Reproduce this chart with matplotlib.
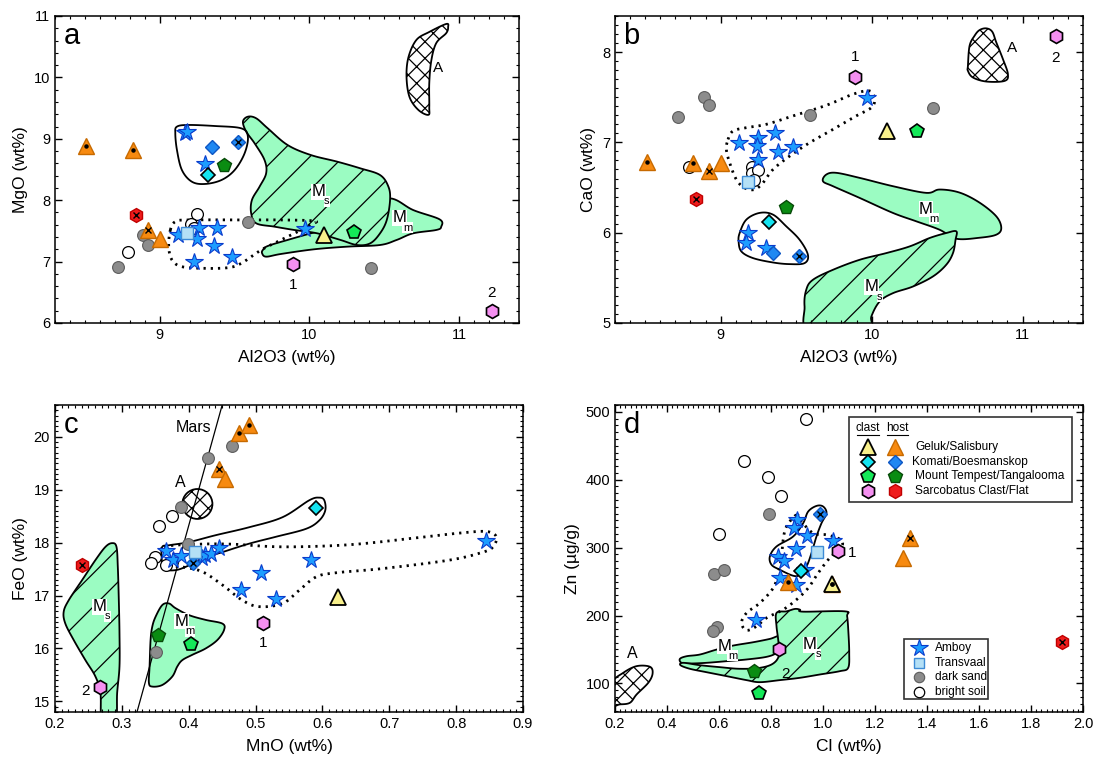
import numpy as np
import matplotlib
matplotlib.use("Agg")
import matplotlib.pyplot as plt
from matplotlib.patches import Polygon, Ellipse, Rectangle
from matplotlib.ticker import MultipleLocator

plt.rcParams["font.family"] = ["Liberation Sans", "DejaVu Sans"]
plt.rcParams["hatch.linewidth"] = 0.9

# ---------------------------------------------------------------- data
# single samples, order: geluk clast, komati clast, tempest clast, tempest host,
# sarcobatus clast 1, sarcobatus clast 2, sarcobatus flat, transvaal
SINGLE_NAMES = ["geluk_clast", "komati_clast", "tempest_clast", "tempest_host",
                "sarco_clast", "sarco_clast", "sarco_flat", "transvaal"]
single_al2o3 = [10.10, 9.32, 10.30, 9.43, 9.89, 11.22, 8.84, 9.18]
single_mgo = [7.43, 8.41, 7.48, 8.57, 6.96, 6.20, 7.76, 7.46]
single_cao = [7.13, 6.12, 7.13, 6.29, 7.72, 8.18, 6.37, 6.56]
single_mno = [0.624, 0.590, 0.404, 0.354, 0.511, 0.267, 0.241, 0.410]
single_feo = [16.98, 18.66, 16.08, 16.25, 16.49, 15.28, 17.57, 17.82]
single_cl = [1.035, 0.915, 0.755, 0.734, 1.058, 0.830, 1.919, 0.978]
single_zn = [246.4, 265.0, 86.3, 118.1, 294.4, 150.9, 160.7, 293.9]
single_flag = ["", "", "", "", "", "", "x", ""]

# Geluk/Salisbury host triangles
geluk_host_al2o3 = [8.51, 8.82, 8.92, 9.00]
geluk_host_mgo = [8.89, 8.81, 7.52, 7.37]
geluk_host_cao = [6.78, 6.77, 6.68, 6.77]
geluk_host_mno = [0.476, 0.490, 0.446, 0.454]
geluk_host_feo = [20.08, 20.23, 19.39, 19.20]
geluk_host_cl = [0.864, 1.035, 1.334, 1.308]
geluk_host_zn = [248.8, 246.4, 314.0, 284.6]
geluk_host_flag = ["dot", "dot", "x", ""]

# Komati/Boesmanskop host diamonds
komati_host_al2o3 = [9.35, 9.52]
komati_host_mgo = [8.86, 8.94]
komati_host_cao = [5.78, 5.74]
komati_host_mno = [np.nan, 0.407]
komati_host_feo = [np.nan, 17.62]
komati_host_cl = [np.nan, 0.988]
komati_host_zn = [np.nan, 349.2]
komati_host_flag = ["", "x"]

# Amboy stars
amboy_a_al2o3 = [9.17, 9.18, 9.30, 9.12, 9.26, 9.25, 9.38, 9.36, 9.48, 9.23, 9.97]
amboy_a_mgo = [9.09, 9.11, 8.59, 7.43, 7.54, 7.36, 7.55, 7.25, 7.07, 7.00, 7.53]
amboy_b_al2o3 = [9.12, 9.25, 9.24, 9.25, 9.36, 9.38, 9.48, 9.97, 9.18, 9.17, 9.30]
amboy_b_cao = [6.99, 7.05, 6.96, 6.80, 7.10, 6.89, 6.95, 7.49, 6.00, 5.89, 5.83]
amboy_c_mno = [0.366, 0.376, 0.389, 0.420, 0.425, 0.434, 0.446, 0.583, 0.508, 0.478, 0.530, 0.844]
amboy_c_feo = [17.85, 17.68, 17.75, 17.70, 17.76, 17.79, 17.89, 17.67, 17.42, 17.10, 16.94, 18.03]
amboy_d_cl = [0.901, 0.888, 0.939, 0.898, 1.039, 0.828, 0.851, 0.930, 0.834, 0.898, 0.742]
amboy_d_zn = [340.9, 328.6, 317.4, 297.8, 309.1, 285.6, 279.7, 267.4, 255.2, 244.4, 194.0]

# dark sand
dark_a_al2o3 = [8.89, 8.92, 8.72, 9.59, 10.41]
dark_a_mgo = [7.44, 7.27, 6.91, 7.64, 6.89]
dark_b_al2o3 = [8.72, 8.89, 8.92, 9.59, 10.41]
dark_b_cao = [7.28, 7.50, 7.41, 7.30, 7.38]
dark_c_mno = [0.465, 0.429, 0.389, 0.399, 0.351]
dark_c_feo = [19.83, 19.60, 18.68, 17.98, 15.94]
dark_d_cl = [0.792, 0.581, 0.619, 0.591, 0.578]
dark_d_zn = [349.7, 261.6, 266.5, 183.2, 177.8]

# bright soil
bright_a_al2o3 = [8.79, 9.25, 9.21, 9.21, 9.23]
bright_a_mgo = [7.15, 7.77, 7.61, 7.48, 7.55]
bright_b_al2o3 = [8.79, 9.21, 9.21, 9.25, 9.22]
bright_b_cao = [6.73, 6.73, 6.66, 6.69, 6.58]
bright_c_mno = [0.375, 0.355, 0.349, 0.343, 0.366]
bright_c_feo = [18.51, 18.32, 17.73, 17.62, 17.57]
bright_d_cl = [0.933, 0.696, 0.789, 0.837, 0.601]
bright_d_zn = [488.7, 428.0, 403.5, 375.6, 319.8]

# outlined fields, panel a (Al2O3, MgO)
field_A_a_x = [10.914, 10.801, 10.715, 10.662, 10.649, 10.669, 10.728, 10.795,
               10.801, 10.801, 10.815, 10.848, 10.914, 10.927]
field_A_a_y = [10.87, 10.74, 10.61, 10.33, 10.01, 9.68, 9.47, 9.39,
               9.52, 9.91, 10.28, 10.56, 10.72, 10.82]
field_Ms_a_x = [9.556, 9.589, 9.645, 9.722, 9.854, 10.009, 10.185, 10.340, 10.472, 10.528,
                10.539, 10.517, 10.472, 10.406, 10.318, 10.208, 10.053, 9.898, 9.766, 9.645,
                9.611, 9.616, 9.667, 9.711, 9.700, 9.634, 9.578]
field_Ms_a_y = [9.279, 9.360, 9.333, 9.170, 8.899, 8.736, 8.628, 8.519, 8.410, 8.220,
                8.003, 7.677, 7.460, 7.297, 7.270, 7.352, 7.460, 7.515, 7.569, 7.623,
                7.786, 8.003, 8.220, 8.438, 8.655, 8.926, 9.116]
field_Mm_a_x = [9.689, 9.722, 9.854, 10.009, 10.097, 10.208, 10.362, 10.539, 10.693, 10.870,
                10.881, 10.848, 10.693, 10.583, 10.472, 10.252, 10.031, 9.810, 9.711, 9.684]
field_Mm_a_y = [7.189, 7.254, 7.352, 7.460, 7.515, 7.677, 7.895, 8.030, 7.840, 7.688,
                7.569, 7.515, 7.460, 7.352, 7.270, 7.243, 7.200, 7.124, 7.080, 7.135]
clast_a_x = [9.115, 9.192, 9.369, 9.545, 9.589, 9.567, 9.501, 9.413, 9.302, 9.214, 9.148, 9.115, 9.104]
clast_a_y = [9.198, 9.225, 9.208, 9.170, 9.035, 8.763, 8.492, 8.329, 8.264, 8.302, 8.492, 8.818, 9.089]
amboy_field_a_x = [9.071, 9.104, 9.192, 9.589, 9.810, 10.031, 10.009, 9.810, 9.678, 9.545,
                   9.457, 9.302, 9.148, 9.082, 9.060]
amboy_field_a_y = [7.515, 7.650, 7.678, 7.678, 7.678, 7.661, 7.596, 7.352, 7.189, 6.972,
                   6.901, 6.890, 6.917, 7.026, 7.243]

# panel b (Al2O3, CaO)
field_A_b_x = [10.638, 10.649, 10.682, 10.715, 10.760, 10.799, 10.826, 10.870, 10.903,
               10.881, 10.760, 10.671, 10.638]
field_A_b_y = [7.848, 8.070, 8.181, 8.244, 8.263, 8.226, 8.107, 7.922, 7.756,
               7.681, 7.674, 7.719, 7.793]
field_Mm_b_x = [9.678, 9.700, 9.766, 9.921, 10.141, 10.362, 10.450, 10.583, 10.715, 10.826,
                10.859, 10.826, 10.715, 10.561, 10.450, 10.296, 10.141, 9.921, 9.744]
field_Mm_b_y = [6.570, 6.644, 6.663, 6.607, 6.515, 6.441, 6.478, 6.444, 6.333, 6.181,
                6.052, 5.978, 5.944, 5.933, 6.033, 6.126, 6.219, 6.385, 6.515]
field_Ms_b_x = [10.561, 10.556, 10.539, 10.494, 10.406, 10.274, 10.141, 10.053, 9.998, 9.976,
                9.589, 9.556, 9.567, 9.611, 9.744, 9.921, 10.097, 10.252, 10.384, 10.494]
field_Ms_b_y = [6.015, 5.922, 5.774, 5.644, 5.515, 5.404, 5.330, 5.237, 5.070, 4.900,
                4.900, 5.181, 5.367, 5.478, 5.589, 5.700, 5.774, 5.848, 5.941, 5.996]
clast_b_x = [9.126, 9.170, 9.258, 9.347, 9.435, 9.523, 9.578, 9.556, 9.457, 9.347, 9.214, 9.137, 9.119]
clast_b_y = [5.996, 6.144, 6.219, 6.200, 6.070, 5.922, 5.756, 5.663, 5.652, 5.670, 5.719, 5.793, 5.904]
amboy_field_b_x = [9.049, 9.082, 9.170, 9.302, 9.479, 9.700, 9.876, 9.987, 10.020, 9.998, 9.898,
                   9.744, 9.589, 9.457, 9.347, 9.280, 9.225, 9.159, 9.104, 9.060, 9.038]
amboy_field_b_y = [7.033, 7.126, 7.163, 7.200, 7.293, 7.411, 7.533, 7.570, 7.478, 7.385, 7.293,
                   7.144, 6.996, 6.848, 6.700, 6.552, 6.478, 6.496, 6.589, 6.774, 6.922]

# panel c (MnO, FeO)
mars_line_mno = [0.315, 0.460]
mars_line_feo = [14.45, 21.05]
field_A_c_center = (0.413, 18.73)
field_A_c_size = (0.045, 0.565)
field_Ms_c_x = [0.213, 0.2205, 0.2405, 0.2605, 0.2755, 0.2855, 0.292, 0.294, 0.2955, 0.2965,
                0.2965, 0.293, 0.2905, 0.2705, 0.268, 0.2605, 0.2455, 0.228, 0.2155]
field_Ms_c_y = [16.69, 16.91, 17.29, 17.67, 17.92, 17.99, 17.92, 17.54, 16.91, 16.29,
                15.66, 15.16, 14.60, 14.60, 15.16, 15.47, 15.78, 16.16, 16.47]
field_Mm_c_x = [0.3505, 0.3605, 0.3705, 0.3805, 0.4005, 0.4254, 0.4504, 0.4529, 0.4429, 0.4254,
                0.4054, 0.3905, 0.383, 0.3755, 0.3605, 0.3455, 0.3405, 0.3415, 0.343, 0.3455]
field_Mm_c_y = [16.60, 16.82, 16.85, 16.76, 16.63, 16.54, 16.47, 16.35, 16.16, 16.00,
                15.88, 15.78, 15.66, 15.47, 15.31, 15.28, 15.35, 15.66, 16.16, 16.41]
clast_c_x = [0.3605, 0.3705, 0.4005, 0.4404, 0.4904, 0.5404, 0.5804, 0.5954, 0.6028, 0.6043,
             0.5954, 0.5754, 0.5304, 0.4904, 0.4504, 0.4204, 0.4005, 0.3805, 0.363, 0.3595]
clast_c_y = [17.92, 17.95, 18.01, 18.14, 18.29, 18.48, 18.80, 18.85, 18.80, 18.61,
             18.42, 18.26, 18.11, 17.98, 17.82, 17.70, 17.57, 17.48, 17.51, 17.73]
amboy_field_c_x = [0.363, 0.4154, 0.4654, 0.5404, 0.6403, 0.7403, 0.8052, 0.8452, 0.8602, 0.8552,
                   0.8402, 0.7903, 0.6903, 0.6203, 0.5903, 0.5654, 0.5404, 0.5054, 0.4804, 0.4504,
                   0.4204, 0.3905, 0.3655, 0.3605]
amboy_field_c_y = [17.92, 17.97, 17.97, 17.92, 17.96, 18.09, 18.18, 18.21, 18.11, 17.92,
                   17.82, 17.67, 17.51, 17.43, 17.35, 17.10, 16.85, 16.79, 16.91, 17.20,
                   17.45, 17.54, 17.57, 17.73]

# panel d (Cl, Zn)
field_A_d_x = [0.19, 0.232, 0.2833, 0.3345, 0.3448, 0.3281, 0.2833, 0.2577, 0.2192, 0.19]
field_A_d_y = [101.0, 115.7, 125.5, 124.6, 114.7, 101.0, 83.8, 71.6, 69.2, 69.2]
field_Ms_d_x = [0.8214, 0.8598, 0.8919, 0.9111, 0.9239, 1.084, 1.093, 1.098, 1.101, 1.097,
                1.065, 0.988, 0.911, 0.834, 0.757, 0.706, 0.629, 0.552, 0.488, 0.452,
                0.4627, 0.5267, 0.6036, 0.6805, 0.7573, 0.8086, 0.8316, 0.8278, 0.8214]
field_Ms_d_y = [203.8, 206.2, 209.7, 208.7, 205.7, 206.2, 198.9, 174.4, 145.0, 123.0,
                118.1, 113.2, 108.3, 104.9, 101.9, 104.9, 110.8, 116.6, 121.6, 126.9,
                130.4, 126.9, 124.0, 121.6, 123.0, 129.4, 142.6, 164.6, 184.2]
field_Mm_d_x = [0.4498, 0.4755, 0.5267, 0.5908, 0.6548, 0.7317, 0.7958, 0.8342, 0.8406, 0.8214,
                0.7830, 0.7061, 0.6292, 0.5523, 0.4883, 0.4562]
field_Mm_d_y = [136.2, 140.1, 142.6, 149.9, 155.8, 160.7, 165.6, 169.5, 154.8, 145.0,
                139.2, 135.3, 132.8, 130.4, 129.4, 130.4]
clast_d_x = [0.7958, 0.8214, 0.8855, 0.9239, 0.9431, 0.9751, 1.0008, 1.0136, 0.9944, 0.9751,
             0.9559, 0.9367, 0.9111, 0.8855, 0.8342, 0.8022]
clast_d_y = [287.0, 301.7, 316.4, 336.0, 353.1, 361.4, 360.5, 350.7, 336.0, 316.4,
             291.9, 272.3, 260.1, 258.6, 267.4, 274.8]
amboy_field_d_x = [0.8983, 0.9175, 0.9623, 1.0136, 1.0648, 1.0751, 1.052, 1.020, 0.9815, 0.9431,
                   0.8983, 0.847, 0.7830, 0.7445, 0.7061, 0.6869, 0.7061, 0.7573, 0.8086, 0.8278,
                   0.8406, 0.847, 0.8598]
amboy_field_d_y = [348.2, 338.4, 321.3, 318.8, 312.5, 304.2, 294.4, 282.1, 262.5, 240.5,
                   223.4, 208.7, 196.5, 184.2, 178.3, 189.1, 203.8, 218.5, 240.5, 262.5,
                   287.0, 311.5, 331.1]

LEGEND_GROUPS = ["Geluk/Salisbury", "Komati/Boesmanskop",
                 "Mount Tempest/Tangalooma", "Sarcobatus Clast/Flat"]
LEGEND_OTHER = ["Amboy", "Transvaal", "dark sand", "bright soil"]

# ---------------------------------------------------------------- styles
GREEN = "#9bfcc2"
STYLE = {
    "amboy": dict(marker="*", ms=13, mfc="#1d9dff", mec="#0a3ccc", mew=0.8),
    "transvaal": dict(marker="s", ms=8.5, mfc="#b4e0f6", mec="#3d8bd6", mew=1.0),
    "dark": dict(marker="o", ms=8.5, mfc="#8c8c8c", mec="#5c5c5c", mew=0.8),
    "bright": dict(marker="o", ms=8.5, mfc="white", mec="black", mew=0.9),
    "geluk_clast": dict(marker="^", ms=11, mfc="#f8f08c", mec="black", mew=1.3),
    "geluk_host": dict(marker="^", ms=11, mfc="#f78a10", mec="#c76a00", mew=1.0),
    "komati_clast": dict(marker="D", ms=7.5, mfc="#14e3f0", mec="black", mew=1.2),
    "komati_host": dict(marker="D", ms=7.5, mfc="#1f88f2", mec="#0d56c4", mew=1.0),
    "tempest_clast": dict(marker="p", ms=10.5, mfc="#14e858", mec="black", mew=1.2),
    "tempest_host": dict(marker="p", ms=10.5, mfc="#0a8c12", mec="#064a08", mew=1.0),
    "sarco_clast": dict(marker="h", ms=10, mfc="#f48ff0", mec="black", mew=1.2),
    "sarco_flat": dict(marker="h", ms=10, mfc="#ef1c1c", mec="#c00000", mew=1.0),
}


def smooth(xs, ys, n=10):
    """Closed Catmull-Rom curve through the outline vertices."""
    p = np.column_stack([xs, ys]).astype(float)
    t = np.linspace(0, 1, n, endpoint=False)[:, None]
    out = []
    k = len(p)
    for i in range(k):
        p0, p1, p2, p3 = p[i - 1], p[i], p[(i + 1) % k], p[(i + 2) % k]
        out.append(0.5 * (2 * p1 + (p2 - p0) * t
                          + (2 * p0 - 5 * p1 + 4 * p2 - p3) * t ** 2
                          + (3 * p1 - p0 - 3 * p2 + p3) * t ** 3))
    return np.vstack(out)


def field(ax, xs, ys, kind):
    pts = smooth(xs, ys)
    if kind == "A":
        patch = Polygon(pts, closed=True, fc="white", ec="black", lw=1.3, hatch="xx", zorder=1)
    elif kind == "Ms":
        patch = Polygon(pts, closed=True, fc=GREEN, ec="black", lw=1.3, hatch="/", zorder=1.2)
    elif kind == "Mm":
        patch = Polygon(pts, closed=True, fc=GREEN, ec="black", lw=1.3, zorder=1.1)
    elif kind == "solid":
        patch = Polygon(pts, closed=True, fill=False, ec="black", lw=1.3, zorder=1.5)
    else:
        patch = Polygon(pts, closed=True, fill=False, ec="black", lw=2.0,
                        ls=(0, (0.8, 1.8)), zorder=1.5)
    ax.add_patch(patch)


def field_label(ax, x, y, sub):
    ax.text(x, y, "M", fontsize=12, ha="center", va="center", zorder=2.5,
            bbox=dict(fc="white", ec="none", pad=0.4))
    ax.annotate(sub, (x, y), xytext=(6, -7), textcoords="offset points", fontsize=8,
                ha="center", va="center", zorder=2.5,
                bbox=dict(fc="white", ec="none", pad=0.3))


def plot_style(ax, x, y, key, z=3):
    ax.plot(x, y, ls="none", zorder=z, **STYLE[key])


def flags(ax, x, y, fl):
    for xi, yi, f in zip(x, y, fl):
        if f == "dot":
            ax.plot(xi, yi, "o", ms=2.2, color="black", zorder=6)
        elif f == "x":
            ax.plot(xi, yi, "x", ms=4, mew=1.0, color="black", zorder=6)


def draw_singles(ax, xs, ys):
    for xi, yi, name, fl in zip(xs, ys, SINGLE_NAMES, single_flag):
        plot_style(ax, xi, yi, name, z=5)
        flags(ax, [xi], [yi], [fl])


def draw_hosts(ax, gx, gy, kx, ky):
    plot_style(ax, gx, gy, "geluk_host", z=4)
    flags(ax, gx, gy, geluk_host_flag)
    plot_style(ax, kx, ky, "komati_host", z=4)
    flags(ax, kx, ky, komati_host_flag)


def style_axes(ax, xlim, ylim, xmaj, xmin, ymaj, ymin, xlabel, ylabel, letter):
    ax.set_xlim(*xlim)
    ax.set_ylim(*ylim)
    ax.xaxis.set_major_locator(MultipleLocator(xmaj))
    ax.xaxis.set_minor_locator(MultipleLocator(xmin))
    ax.yaxis.set_major_locator(MultipleLocator(ymaj))
    ax.yaxis.set_minor_locator(MultipleLocator(ymin))
    ax.tick_params(which="both", direction="in", top=True, right=True, labelsize=10.5)
    ax.tick_params(which="major", length=5, width=1.0)
    ax.tick_params(which="minor", length=2.5, width=0.8)
    for s in ax.spines.values():
        s.set_linewidth(1.1)
    ax.set_xlabel(xlabel, fontsize=12.5, labelpad=6)
    ax.set_ylabel(ylabel, fontsize=12.5, labelpad=4)
    ax.text(0.018, 0.935, letter, transform=ax.transAxes, fontsize=21,
            ha="left", va="center", zorder=7)


fig = plt.figure(figsize=(10.95, 7.65), dpi=100)
ax_a = fig.add_axes([0.0502, 0.5778, 0.4237, 0.4013])
ax_b = fig.add_axes([0.5616, 0.5778, 0.4274, 0.4013])
ax_c = fig.add_axes([0.0502, 0.0693, 0.4274, 0.4013])
ax_d = fig.add_axes([0.5616, 0.0693, 0.4274, 0.4013])

# ---------------------------------------------------------------- panel a
ax = ax_a
field(ax, field_A_a_x, field_A_a_y, "A")
field(ax, field_Mm_a_x, field_Mm_a_y, "Mm")
field(ax, field_Ms_a_x, field_Ms_a_y, "Ms")
field(ax, clast_a_x, clast_a_y, "solid")
field(ax, amboy_field_a_x, amboy_field_a_y, "dotted")
plot_style(ax, dark_a_al2o3, dark_a_mgo, "dark")
plot_style(ax, bright_a_al2o3, bright_a_mgo, "bright")
plot_style(ax, amboy_a_al2o3, amboy_a_mgo, "amboy")
draw_hosts(ax, geluk_host_al2o3, geluk_host_mgo, komati_host_al2o3, komati_host_mgo)
draw_singles(ax, single_al2o3, single_mgo)
field_label(ax, 10.06, 8.14, "s")
field_label(ax, 10.60, 7.71, "m")
ax.text(10.86, 10.15, "A", fontsize=11, ha="center", va="center")
ax.annotate("1", (single_al2o3[4], single_mgo[4]), xytext=(0, -15),
            textcoords="offset points", ha="center", va="center", fontsize=11)
ax.annotate("2", (single_al2o3[5], single_mgo[5]), xytext=(0, 13),
            textcoords="offset points", ha="center", va="center", fontsize=11)
style_axes(ax, (8.3, 11.4), (6, 11), 1, 0.1, 1, 0.2, "Al2O3 (wt%)", "MgO (wt%)", "a")

# ---------------------------------------------------------------- panel b
ax = ax_b
field(ax, field_A_b_x, field_A_b_y, "A")
field(ax, field_Mm_b_x, field_Mm_b_y, "Mm")
field(ax, field_Ms_b_x, field_Ms_b_y, "Ms")
field(ax, clast_b_x, clast_b_y, "solid")
field(ax, amboy_field_b_x, amboy_field_b_y, "dotted")
plot_style(ax, dark_b_al2o3, dark_b_cao, "dark")
plot_style(ax, bright_b_al2o3, bright_b_cao, "bright")
plot_style(ax, amboy_b_al2o3, amboy_b_cao, "amboy")
draw_hosts(ax, geluk_host_al2o3, geluk_host_cao, komati_host_al2o3, komati_host_cao)
draw_singles(ax, single_al2o3, single_cao)
field_label(ax, 10.0, 5.40, "s")
field_label(ax, 10.36, 6.26, "m")
ax.text(10.93, 8.05, "A", fontsize=11, ha="center", va="center")
ax.annotate("1", (single_al2o3[4], single_cao[4]), xytext=(0, 15),
            textcoords="offset points", ha="center", va="center", fontsize=11)
ax.annotate("2", (single_al2o3[5], single_cao[5]), xytext=(0, -16),
            textcoords="offset points", ha="center", va="center", fontsize=11)
style_axes(ax, (8.3, 11.4), (5, 8.4), 1, 0.1, 1, 0.1, "Al2O3 (wt%)", "CaO (wt%)", "b")

# ---------------------------------------------------------------- panel c
ax = ax_c
ax.plot(mars_line_mno, mars_line_feo, color="black", lw=0.9, zorder=1.6)
ax.add_patch(Ellipse(field_A_c_center, *field_A_c_size, fc="white", ec="black",
                     lw=1.3, hatch="xx", zorder=1))
field(ax, field_Ms_c_x, field_Ms_c_y, "Ms")
field(ax, field_Mm_c_x, field_Mm_c_y, "Mm")
field(ax, clast_c_x, clast_c_y, "solid")
field(ax, amboy_field_c_x, amboy_field_c_y, "dotted")
plot_style(ax, dark_c_mno, dark_c_feo, "dark")
plot_style(ax, bright_c_mno, bright_c_feo, "bright")
plot_style(ax, amboy_c_mno, amboy_c_feo, "amboy")
draw_hosts(ax, geluk_host_mno, geluk_host_feo, komati_host_mno, komati_host_feo)
draw_singles(ax, single_mno, single_feo)
field_label(ax, 0.266, 16.79, "s")
field_label(ax, 0.389, 16.51, "m")
ax.text(0.408, 20.18, "Mars", fontsize=11.5, ha="center", va="center")
ax.text(0.387, 19.14, "A", fontsize=11.5, ha="center", va="center")
ax.annotate("1", (single_mno[4], single_feo[4]), xytext=(0, -15),
            textcoords="offset points", ha="center", va="center", fontsize=11)
ax.annotate("2", (single_mno[5], single_feo[5]), xytext=(-10, -3),
            textcoords="offset points", ha="center", va="center", fontsize=11)
style_axes(ax, (0.2, 0.9), (14.8, 20.6), 0.1, 0.01, 1, 0.1, "MnO (wt%)", "FeO (wt%)", "c")

# ---------------------------------------------------------------- panel d
ax = ax_d
field(ax, field_A_d_x, field_A_d_y, "A")
field(ax, field_Mm_d_x, field_Mm_d_y, "Mm")
field(ax, field_Ms_d_x, field_Ms_d_y, "Ms")
field(ax, clast_d_x, clast_d_y, "solid")
field(ax, amboy_field_d_x, amboy_field_d_y, "dotted")
plot_style(ax, dark_d_cl, dark_d_zn, "dark")
plot_style(ax, bright_d_cl, bright_d_zn, "bright")
plot_style(ax, amboy_d_cl, amboy_d_zn, "amboy")
draw_hosts(ax, geluk_host_cl, geluk_host_zn, komati_host_cl, komati_host_zn)
draw_singles(ax, single_cl, single_zn)
flags(ax, [single_cl[0]], [single_zn[0]], ["dot"])
field_label(ax, 0.95, 157, "s")
field_label(ax, 0.62, 155, "m")
ax.text(0.267, 144, "A", fontsize=11.5, ha="center", va="center")
ax.annotate("1", (single_cl[4], single_zn[4]), xytext=(10, -1),
            textcoords="offset points", ha="center", va="center", fontsize=11)
ax.annotate("2", (single_cl[5], single_zn[5]), xytext=(5, -18),
            textcoords="offset points", ha="center", va="center", fontsize=11)
style_axes(ax, (0.2, 2.0), (58, 510), 0.2, 0.02, 100, 10, "Cl (wt%)", "Zn (\u00b5g/g)", "d")

# legend: clast / host
T = ax.transAxes
LEG_FS = 8.6
ax.add_patch(Rectangle((0.50, 0.684), 0.476, 0.277, transform=T, fc="white",
                       ec="#333333", lw=1.2, zorder=8))
ax.text(0.541, 0.925, "clast", transform=T, fontsize=LEG_FS, ha="center", va="center", zorder=9)
ax.text(0.604, 0.925, "host", transform=T, fontsize=LEG_FS, ha="center", va="center", zorder=9)
ax.plot([0.518, 0.564], [0.903, 0.903], transform=T, color="black", lw=0.8, zorder=9)
ax.plot([0.582, 0.627], [0.903, 0.903], transform=T, color="black", lw=0.8, zorder=9)
leg_rows = [0.864, 0.814, 0.769, 0.721]
leg_pairs = [("geluk_clast", "geluk_host"), ("komati_clast", "komati_host"),
             ("tempest_clast", "tempest_host"), ("sarco_clast", "sarco_flat")]
leg_text_x = [0.641, 0.634, 0.641, 0.641]
for yr, (c, h), lab, tx in zip(leg_rows, leg_pairs, LEGEND_GROUPS, leg_text_x):
    ax.plot(0.541, yr, transform=T, ls="none", zorder=9, **STYLE[c])
    ax.plot(0.598, yr, transform=T, ls="none", zorder=9, **STYLE[h])
    ax.text(tx, yr, lab, transform=T, fontsize=LEG_FS, ha="left", va="center", zorder=9)

# legend: sample types
ax.add_patch(Rectangle((0.6175, 0.0413), 0.180, 0.196, transform=T, fc="white",
                       ec="#333333", lw=1.2, zorder=8))
for yr, key, lab in zip([0.2074, 0.1607, 0.113, 0.066],
                        ["amboy", "transvaal", "dark", "bright"], LEGEND_OTHER):
    st = dict(STYLE[key])
    if key != "amboy":
        st["ms"] = 7.5
    ax.plot(0.6496, yr, transform=T, ls="none", zorder=9, **st)
    ax.text(0.6838, yr, lab, transform=T, fontsize=LEG_FS, ha="left", va="center", zorder=9)

fig.savefig("out.png", dpi=100)
